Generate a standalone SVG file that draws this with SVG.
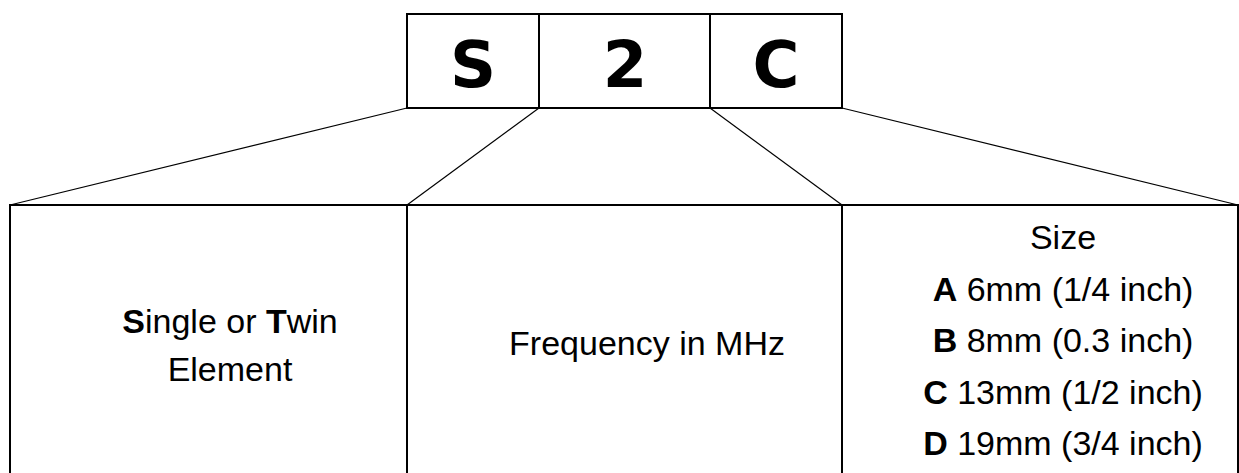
<svg xmlns="http://www.w3.org/2000/svg" width="1239" height="473" viewBox="0 0 1239 473">
<style>
.box{fill:#fff;stroke:#000;stroke-width:2}
.conn{stroke:#000;stroke-width:1.2;fill:none}
.code{font-family:"DejaVu Sans",sans-serif;font-weight:bold;font-size:64px;text-anchor:middle;fill:#000}
.lbl{font-family:"Liberation Sans",Arial,sans-serif;font-size:34px;text-anchor:middle;fill:#000}
.b{font-weight:bold}
</style>
<rect width="1239" height="473" fill="#fff"/>
<g id="connectors">
<line class="conn" x1="407" y1="108" x2="10" y2="205"/>
<line class="conn" x1="539" y1="108" x2="407" y2="205"/>
<line class="conn" x1="710" y1="108" x2="842" y2="205"/>
<line class="conn" x1="842" y1="108" x2="1238" y2="205"/>
</g>
<g id="code-S">
<rect class="box" x="407" y="14" width="132" height="94"/>
<text class="code" x="473" y="87">S</text>
</g>
<g id="code-2">
<rect class="box" x="539" y="14" width="171" height="94"/>
<text class="code" x="625" y="87">2</text>
</g>
<g id="code-C">
<rect class="box" x="710" y="14" width="132" height="94"/>
<text class="code" x="776" y="87">C</text>
</g>
<g id="element">
<rect class="box" x="10" y="205" width="397" height="280"/>
<text class="lbl" x="230" y="333"><tspan class="b">S</tspan>ingle or <tspan class="b">T</tspan>win</text>
<text class="lbl" x="230" y="381">Element</text>
</g>
<g id="frequency">
<rect class="box" x="407" y="205" width="435" height="280"/>
<text class="lbl" x="647" y="355">Frequency in MHz</text>
</g>
<g id="size">
<rect class="box" x="842" y="205" width="396" height="280"/>
<text class="lbl" x="1063" y="249">Size</text>
<text class="lbl" x="1063" y="301"><tspan class="b">A</tspan> 6mm (1/4 inch)</text>
<text class="lbl" x="1063" y="352"><tspan class="b">B</tspan> 8mm (0.3 inch)</text>
<text class="lbl" x="1063" y="404"><tspan class="b">C</tspan> 13mm (1/2 inch)</text>
<text class="lbl" x="1063" y="455"><tspan class="b">D</tspan> 19mm (3/4 inch)</text>
</g>
</svg>
